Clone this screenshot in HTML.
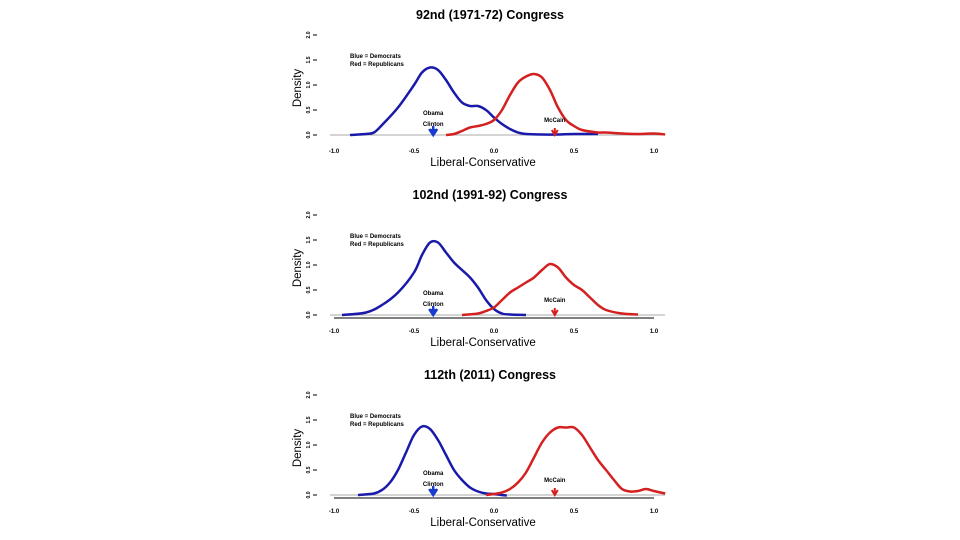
<!DOCTYPE html>
<html><head><meta charset="utf-8"><style>
body{margin:0;background:#fff;}
svg{display:block;font-family:"Liberation Sans",sans-serif;}
</style></head><body>
<svg id="c" width="960" height="540"></svg>
<script>
const titles=["92nd (1971-72) Congress","102nd (1991-92) Congress","112th (2011) Congress"];
const xTicks=[-1.0,-0.5,0.0,0.5,1.0];
const yTicks=[0.0,0.5,1.0,1.5,2.0];
const blueX1=[-0.9,-0.8,-0.75,-0.7,-0.6,-0.5,-0.45,-0.4,-0.35,-0.3,-0.25,-0.2,-0.15,-0.1,-0.05,0,0.05,0.1,0.15,0.2,0.3,0.4,0.5,0.65];
const blueY1=[0,0.02,0.05,0.2,0.55,1.0,1.25,1.35,1.3,1.1,0.85,0.65,0.58,0.58,0.5,0.35,0.22,0.12,0.05,0.02,0.01,0.01,0.02,0.02];
const redX1=[-0.3,-0.25,-0.2,-0.15,-0.1,-0.05,0,0.05,0.1,0.15,0.2,0.25,0.3,0.35,0.4,0.45,0.5,0.55,0.65,0.7,0.8,0.9,1.0,1.07];
const redY1=[0,0.02,0.08,0.15,0.18,0.22,0.3,0.5,0.8,1.05,1.17,1.22,1.15,0.9,0.55,0.3,0.18,0.1,0.05,0.05,0.03,0.02,0.03,0.01];
const blueX2=[-0.95,-0.8,-0.7,-0.6,-0.5,-0.45,-0.4,-0.35,-0.3,-0.25,-0.2,-0.15,-0.1,-0.05,0,0.05,0.1,0.2];
const blueY2=[0,0.05,0.2,0.45,0.85,1.2,1.45,1.45,1.25,1.05,0.9,0.75,0.55,0.3,0.12,0.03,0.01,0];
const redX2=[-0.2,-0.1,-0.05,0,0.05,0.1,0.15,0.2,0.25,0.3,0.35,0.4,0.45,0.5,0.55,0.6,0.65,0.7,0.8,0.9];
const redY2=[0,0.03,0.08,0.15,0.3,0.45,0.55,0.65,0.75,0.9,1.02,0.95,0.75,0.6,0.5,0.35,0.2,0.1,0.03,0.01];
const blueX3=[-0.85,-0.75,-0.7,-0.65,-0.6,-0.55,-0.5,-0.45,-0.4,-0.35,-0.3,-0.25,-0.2,-0.15,-0.1,-0.05,0,0.05,0.08];
const blueY3=[0,0.03,0.1,0.25,0.5,0.85,1.2,1.37,1.32,1.1,0.8,0.5,0.3,0.15,0.07,0.03,0.02,0,-0.01];
const redX3=[-0.05,0,0.05,0.1,0.15,0.2,0.25,0.3,0.35,0.4,0.45,0.5,0.55,0.6,0.65,0.7,0.75,0.8,0.85,0.9,0.95,1.0,1.07];
const redY3=[0,0.02,0.05,0.12,0.25,0.45,0.75,1.05,1.25,1.35,1.35,1.35,1.2,0.95,0.7,0.5,0.3,0.12,0.07,0.08,0.12,0.08,0.03];
const blues=[[blueX1,blueY1],[blueX2,blueY2],[blueX3,blueY3]];
const reds=[[redX1,redY1],[redX2,redY2],[redX3,redY3]];
const obamaX=-0.38, mccainX=0.38;
const NS="http://www.w3.org/2000/svg";
const svg=document.getElementById('c');
function mk(t,a,p){const e=document.createElementNS(NS,t);for(const k in a)e.setAttribute(k,a[k]);(p||svg).appendChild(e);return e;}
const base=[135,315,495];
function sx(v){return 494+v*160;}
function path(xs,ys,sy){
  const P=xs.map((x,i)=>[sx(x),sy(ys[i])]);
  let d='M'+P[0][0].toFixed(1)+','+P[0][1].toFixed(1);
  for(let i=0;i<P.length-1;i++){
    const p0=P[Math.max(0,i-1)],p1=P[i],p2=P[i+1],p3=P[Math.min(P.length-1,i+2)];
    const c1=[p1[0]+(p2[0]-p0[0])/6,p1[1]+(p2[1]-p0[1])/6];
    const c2=[p2[0]-(p3[0]-p1[0])/6,p2[1]-(p3[1]-p1[1])/6];
    d+=`C${c1[0].toFixed(1)},${c1[1].toFixed(1)} ${c2[0].toFixed(1)},${c2[1].toFixed(1)} ${p2[0].toFixed(1)},${p2[1].toFixed(1)}`;
  }
  return d;
}
for(let p=0;p<3;p++){
  const b=base[p];const sy=v=>b-v*50;
  const g=mk('g',{});
  
  
  const t=mk('text',{x:490,y:b-116,'text-anchor':'middle','font-size':12.5,'font-weight':'bold'},g);t.textContent=titles[p];
  
  const bl=mk('line',{x1:330,x2:665,y1:b,y2:b,stroke:'#aaa','stroke-width':1},g);
  
  if(p>0){const ax=mk('line',{x1:334,x2:654,y1:b+3,y2:b+3,stroke:'#000','stroke-width':1},g);
    }
  xTicks.forEach(v=>{const tt=mk('text',{x:sx(v),y:b+18,'text-anchor':'middle','font-size':6,'font-weight':'bold'},g);tt.textContent=v.toFixed(1);
    });
  yTicks.forEach(v=>{const y=sy(v);mk('line',{x1:313,x2:317,y1:y,y2:y,stroke:'#000','stroke-width':1},g);
    const tt=mk('text',{x:0,y:0,'text-anchor':'middle','font-size':5,'font-weight':'bold',transform:`translate(310,${y}) rotate(-90)`},g);tt.textContent=v.toFixed(1);
    });
  const xl=mk('text',{x:483,y:b+31,'text-anchor':'middle','font-size':11.5},g);xl.textContent='Liberal-Conservative';
  
  const yl=mk('text',{x:0,y:0,'text-anchor':'middle','font-size':11.5,transform:`translate(301,${b-47}) rotate(-90)`},g);yl.textContent='Density';
  
  const l1=mk('text',{x:350,y:b-77,'font-size':6,'font-weight':'bold'},g);l1.textContent='Blue = Democrats';
  
  const l2=mk('text',{x:350,y:b-69,'font-size':6,'font-weight':'bold'},g);l2.textContent='Red = Republicans';
  
  const bp=mk('path',{d:path(blues[p][0],blues[p][1],sy),fill:'none',stroke:'#1a1aaa','stroke-width':2.5,'stroke-linejoin':'round'},g);
  
  const rp=mk('path',{d:path(reds[p][0],reds[p][1],sy),fill:'none',stroke:'#d42020','stroke-width':2.5,'stroke-linejoin':'round'},g);
  
  const ox=sx(obamaX);
  const o1=mk('text',{x:ox,y:b-20,'text-anchor':'middle','font-size':6,'font-weight':'bold'},g);o1.textContent='Obama';
  
  const o2=mk('text',{x:ox,y:b-9,'text-anchor':'middle','font-size':6,'font-weight':'bold'},g);o2.textContent='Clinton';
  
  const oa=mk('path',{d:`M${ox-4},${b-6}L${ox},${b}L${ox+4},${b-6}M${ox},${b-9}L${ox},${b}`,stroke:'#1a3ad0','stroke-width':2.5,fill:'#1a3ad0'},g);
  
  const mx=sx(mccainX);
  const m1=mk('text',{x:mx,y:b-13,'text-anchor':'middle','font-size':6,'font-weight':'bold'},g);m1.textContent='McCain';
  
  const ma=mk('path',{d:`M${mx-3},${b-5}L${mx},${b}L${mx+3},${b-5}M${mx},${b-7}L${mx},${b}`,stroke:'#d42020','stroke-width':2,fill:'none'},g);
  
}
</script>
</body></html>
